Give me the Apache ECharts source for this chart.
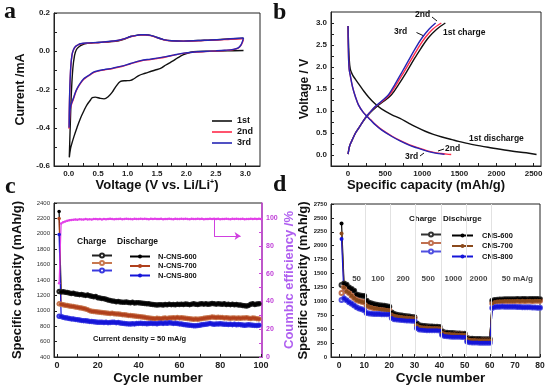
<!DOCTYPE html>
<html><head><meta charset="utf-8">
<script src="https://cdn.jsdelivr.net/npm/echarts@6/dist/echarts.min.js"></script>
<style>html,body{margin:0;padding:0;background:#fff}#chart{width:550px;height:389px}</style>
</head><body><div id="chart"></div>
<script>
// ---------- Panel a : cyclic voltammetry ----------
const cv1V = [2.97,2.7,2.4,2.2,2.07,1.95,1.85,1.78,1.73,1.65,1.56,1.47,1.39,1.3,1.19,1.1,1.05,0.97,0.88,0.8,0.74,0.67,0.6,0.53,0.45,0.4,0.37,0.31,0.26,0.2,0.14,0.09,0.06,0.03,0.01,
  0.025,0.045,0.07,0.1,0.13,0.17,0.23,0.32,0.5,0.7,0.85,0.95,1.05,1.15,1.22,1.3,1.39,1.5,1.61,1.75,1.95,2.2,2.52,2.75,2.97];
const cv1I = [0.004,0.002,0,-0.001,-0.005,-0.018,-0.035,-0.049,-0.058,-0.072,-0.09,-0.098,-0.106,-0.115,-0.127,-0.145,-0.152,-0.154,-0.158,-0.185,-0.214,-0.238,-0.249,-0.246,-0.24,-0.242,-0.255,-0.28,-0.31,-0.35,-0.40,-0.445,-0.475,-0.51,-0.555,
  -0.4,-0.22,-0.09,-0.02,0.008,0.022,0.034,0.041,0.046,0.05,0.055,0.064,0.077,0.083,0.086,0.086,0.083,0.072,0.061,0.055,0.053,0.056,0.06,0.065,0.068];
const cv3V = [2.97,2.95,2.92,2.88,2.8,2.65,2.5,2.3,2.1,1.95,1.78,1.65,1.5,1.39,1.22,1.05,0.9,0.75,0.6,0.5,0.43,0.35,0.3,0.255,0.2,0.15,0.114,0.08,0.05,0.029,0.015,0.006,
  0.01,0.02,0.035,0.055,0.08,0.114,0.16,0.2,0.3,0.54,0.82,0.95,1.05,1.15,1.22,1.3,1.39,1.5,1.61,1.75,1.95,2.2,2.52,2.75,2.97];
const cv3I = [0.07,0.05,0.03,0.018,0.01,0.005,0.002,-0.001,-0.005,-0.01,-0.02,-0.028,-0.036,-0.041,-0.049,-0.064,-0.078,-0.088,-0.096,-0.102,-0.108,-0.124,-0.134,-0.144,-0.165,-0.19,-0.214,-0.245,-0.27,-0.293,-0.34,-0.40,
  -0.3,-0.18,-0.08,-0.02,0.008,0.025,0.034,0.039,0.043,0.047,0.056,0.066,0.077,0.083,0.086,0.086,0.083,0.072,0.061,0.055,0.053,0.056,0.06,0.065,0.07];
const cv2V = [2.97,2.95,2.92,2.88,2.8,2.65,2.5,2.3,2.1,1.95,1.78,1.65,1.5,1.39,1.22,1.05,0.9,0.75,0.6,0.5,0.43,0.35,0.3,0.255,0.2,0.15,0.114,0.08,0.05,0.029,0.015,0.006,
  0.01,0.02,0.035,0.055,0.08,0.114,0.16,0.2,0.3,0.54,0.82,0.95,1.05,1.15,1.22,1.3,1.39,1.5,1.61,1.75,1.95,2.2,2.52,2.75,2.97];
const cv2I = [0.062,0.045,0.028,0.016,0.009,0.004,0.001,-0.002,-0.006,-0.011,-0.021,-0.03,-0.038,-0.043,-0.051,-0.066,-0.08,-0.09,-0.098,-0.104,-0.11,-0.126,-0.136,-0.147,-0.168,-0.193,-0.218,-0.25,-0.275,-0.3,-0.35,-0.405,
  -0.31,-0.19,-0.085,-0.022,0.006,0.024,0.033,0.038,0.042,0.046,0.055,0.065,0.076,0.082,0.085,0.085,0.082,0.071,0.06,0.054,0.052,0.055,0.059,0.063,0.066];
const aTicksX = [0,0.25,0.5,0.75,1,1.25,1.5,1.75,2,2.25,2.5,2.75,3];
const aLabelsX = [0,0.5,1,1.5,2,2.5,3];
const aTicksY = [-0.6,-0.5,-0.4,-0.3,-0.2,-0.1,0,0.1,0.2];
const aLabelsY = [-0.6,-0.4,-0.2,0,0.2];

// ---------- Panel b : charge / discharge profiles ----------
const b1DisCap = [0,5,15,30,60,100,150,200,275,360,450,585,700,810,900,1040,1150,1265,1400,1490,1700,1940,2200,2400,2540];
const b1DisV   = [2.93,2.6,2.2,1.95,1.82,1.72,1.6,1.48,1.32,1.17,1.05,0.92,0.83,0.73,0.65,0.54,0.47,0.41,0.35,0.31,0.23,0.16,0.09,0.05,0.01];
const b2DisCap = [0,3,8,15,27,60,100,140,200,255,305,370,458,600,712,830,948,1060,1155,1250,1330,1390];
const b2DisV   = [2.93,2.5,2.15,1.95,1.83,1.55,1.32,1.14,0.98,0.88,0.8,0.69,0.57,0.42,0.32,0.23,0.16,0.1,0.06,0.035,0.02,0.012];
const b3DisCap = [0,3,8,15,27,60,100,140,200,253,300,365,450,590,700,815,930,1040,1130,1220,1300];
const b3DisV   = [2.93,2.5,2.15,1.95,1.83,1.55,1.32,1.14,0.98,0.88,0.8,0.69,0.57,0.42,0.32,0.23,0.16,0.1,0.06,0.03,0.015];
const b1ChgCap = [0,20,50,100,150,235,310,385,480,585,680,785,880,980,1085,1195,1311];
const b1ChgV   = [0.02,0.2,0.32,0.5,0.63,0.84,0.98,1.1,1.22,1.37,1.6,1.88,2.15,2.42,2.67,2.86,3.0];
const b2ChgCap = [0,20,50,100,150,230,300,370,460,560,650,750,845,940,1040,1140,1257];
const b2ChgV   = [0.02,0.2,0.32,0.5,0.63,0.84,0.98,1.1,1.22,1.37,1.6,1.88,2.15,2.42,2.67,2.86,3.0];
const b3ChgCap = [0,20,50,100,150,230,300,365,450,545,630,725,815,905,1000,1090,1180];
const b3ChgV   = [0.02,0.2,0.32,0.5,0.63,0.84,0.98,1.1,1.22,1.37,1.6,1.88,2.15,2.42,2.67,2.86,3.0];
const bTicksX = [0,250,500,750,1000,1250,1500,1750,2000,2250,2500];
const bLabelsX = [0,500,1000,1500,2000,2500];
const bTicksY = [0,0.25,0.5,0.75,1,1.25,1.5,1.75,2,2.25,2.5,2.75,3];
const bLabelsY = [0,0.5,1,1.5,2,2.5,3];

// ---------- Panel c : cycling at 50 mA/g ----------
const cNames = ['N-CNS-600','N-CNS-700','N-CNS-800'];
const c600 = [2290,
 1245,1248,1240,1238,1230,1225,1228,1218,1215,
 1210,1212,1205,1200,1204,1195,1188,1182,1185,1170,
 1165,1160,1158,1150,1140,1135,1128,1125,1118,1120,
 1115,1112,1110,1115,1108,1105,1110,1102,1106,1104,
 1100,1098,1095,1092,1090,1085,1082,1078,1075,1078,
 1080,1076,1082,1078,1085,1080,1082,1078,1084,1082,
 1086,1082,1088,1084,1080,1086,1090,1085,1082,1088,
 1092,1086,1090,1084,1088,1094,1090,1086,1092,1088,
 1085,1090,1082,1086,1080,1084,1078,1082,1076,1074,
 1068,1065,1062,1070,1085,1090,1082,1088,1092];
const c700 = [2200,
 1085,1078,1072,1068,1062,1058,1055,1048,1045,
 1040,1035,1030,1022,1015,1002,995,990,988,985,
 982,978,975,972,968,965,968,962,960,958,
 955,950,948,944,940,938,935,932,928,925,
 922,918,915,910,905,903,900,898,902,900,
 898,902,905,900,908,905,910,906,912,908,
 910,906,904,900,896,892,890,894,890,895,
 898,902,906,910,914,918,915,912,916,914,
 912,908,910,906,904,908,905,902,906,904,
 908,906,910,904,900,906,902,898,895];
const c800 = [1990,
 925,915,910,905,900,895,892,888,885,
 880,875,872,870,868,862,860,858,855,852,
 850,852,848,850,846,848,852,850,846,848,
 842,838,835,832,830,828,832,830,834,836,
 838,834,836,832,835,838,834,836,832,838,
 840,836,842,838,844,840,836,838,834,830,
 828,822,818,815,812,810,806,805,808,812,
 818,822,826,830,834,830,826,830,828,832,
 828,824,826,822,826,820,824,818,822,820,
 816,812,814,818,815,812,810,808,812];
const cFirstCharge = [1250,1090,930];
const cCE = [53,96,97,97.5,98,98.3,98.6,98.8,99,98.8,
 99.1,99,98.9,99.2,99,99.1,98.9,99.2,99.3,99.1,
 99.2,99,99.3,99.1,99.2,99.4,99.2,99.1,99.3,99.2,
 99.4,99.1,99.3,99.5,99.2,99.3,99.1,99.4,99.2,99.3,
 99.5,99.2,99.4,99.3,99.1,99.4,99.2,99.5,99.3,99.2,
 99.4,99.1,99.3,99.2,99.5,99.3,99.1,99.4,99.2,99.3,
 99.4,99.2,99.5,99.3,99.1,99.4,99.2,99.3,99.5,99.2,
 99.4,99.1,99.3,99.2,99.4,99.3,99.5,99.2,99.4,99.1,
 99.3,99.2,99.4,99.3,99.1,99.4,99.2,99.5,99.3,99.2,
 99.4,99.1,99.3,99.2,99.4,99.3,99.5,99.2,99.4,99.3];
const cTicksX = [0,10,20,30,40,50,60,70,80,90,100];
const cLabelsX = [0,20,40,60,80,100];
const cTicksY = [400,600,800,1000,1200,1400,1600,1800,2000,2200,2400];
const cTicksR = [0,10,20,30,40,50,60,70,80,90,100];
const cLabelsR = [0,20,40,60,80,100];

// ---------- Panel d : rate capability ----------
const dNames = ['CNS-600','CNS-700','CNS-800'];
const d600 = [2400,1320,1300,1250,1220,1190,1125,1110,1100,1095,
 1010,975,960,950,940,932,925,920,912,905,
 800,772,760,752,745,738,732,726,720,716,
 600,572,562,556,552,550,546,545,542,540,
 462,442,436,432,430,426,424,421,419,416,
 340,330,326,324,323,322,321,320,320,318,
 1010,1025,1030,1032,1035,1036,1038,1040,1038,1040,
 1042,1040,1041,1043,1040,1042,1044,1041,1043,1040];
const d700 = [2220,1250,1180,1150,1100,1062,1025,1005,992,982,
 922,902,888,878,870,862,856,850,846,842,
 762,742,732,725,718,712,708,704,700,698,
 572,545,535,530,528,525,523,522,520,518,
 440,422,415,412,410,408,406,404,403,401,
 322,310,306,304,303,302,301,300,300,299,
 960,990,998,1002,1004,1005,1006,1008,1006,1008,
 1009,1008,1010,1008,1009,1010,1008,1010,1009,1010];
const d800 = [2120,1050,1020,985,955,925,895,872,860,842,
 792,780,776,774,772,771,770,770,769,768,
 700,680,672,668,664,660,657,655,652,650,
 520,495,488,485,483,482,481,480,479,478,
 400,378,372,368,366,364,363,362,361,360,
 280,266,262,260,259,258,257,256,256,255,
 880,898,902,905,906,904,905,903,904,902,
 900,898,895,896,894,892,890,888,886,884];
const dFirstCharge = [1295,1150,1025];
const dRateLabels = ['50','100','200','500','1000','2000','50 mA/g'];
const dRateX = [7,15.5,25.5,35.5,45.5,55.5,71];
const dRateY = 1400;
const dSeparators = [10.5,20.5,30.5,40.5,50.5,60.5];
const dTicksX = [0,5,10,15,20,25,30,35,40,45,50,55,60,65,70,75,80];
const dLabelsX = [0,10,20,30,40,50,60,70,80];
const dTicksY = [0,250,500,750,1000,1250,1500,1750,2000,2250,2500,2750];

// ---------- build ----------
const FONT = '"Liberation Sans", Arial, sans-serif';
const zip = (xs, ys) => xs.map((x, i) => [x, ys[i]]);
const byCycle = arr => arr.map((v, i) => [i + 1, v]);
const withFirst = (first, arr) => [first].concat(arr.slice(1));
const plain = v => String(v);
const f1 = v => v.toFixed(1);

function axis(o) {
  return {
    type: 'value', gridIndex: o.grid, min: o.min, max: o.max, position: o.position,
    axisLine: { show: true, onZero: false, lineStyle: { color: o.lineColor || '#222', width: o.lineWidth || 1 } },
    axisTick: { show: true, inside: true, length: 3, customValues: o.ticks, lineStyle: { color: o.lineColor || '#222' } },
    axisLabel: { customValues: o.labels, fontFamily: FONT, fontSize: o.fs, fontWeight: o.fw || 'bold',
      color: o.labelColor || '#222', margin: o.margin || 4, formatter: o.fmt || plain },
    splitLine: { show: false },
    name: o.name, nameLocation: 'middle', nameGap: o.gap, nameRotate: o.rot,
    nameTextStyle: Object.assign({ fontFamily: FONT, fontSize: o.nfs || 13, fontWeight: 'bold', color: o.nameColor || '#111' }, o.nts || {})
  };
}

const grids = [
  { left: 54, top: 13, width: 206, height: 153 },
  { left: 331, top: 12, width: 210, height: 154 },
  { left: 54, top: 203, width: 208, height: 154 },
  { left: 331, top: 204, width: 209, height: 153 }
].map(g => Object.assign({ show: true, borderColor: '#222', borderWidth: 1, backgroundColor: 'transparent' }, g));

const xAxes = [
  axis({ grid: 0, min: -0.25, max: 3.25, ticks: aTicksX, labels: aLabelsX, fs: 8, fmt: f1,
    name: 'Voltage (V vs. Li/Li{s|+})', gap: 12, nfs: 13,
    nts: { rich: { s: { fontSize: 7, fontWeight: 'bold', fontFamily: FONT, verticalAlign: 'top', color: '#111' } } } }),
  axis({ grid: 1, min: -230, max: 2600, ticks: bTicksX, labels: bLabelsX, fs: 8,
    name: 'Specific capacity (mAh/g)', gap: 12, nfs: 13, nts: { padding: [0, 20, 0, 0] } }),
  axis({ grid: 2, min: -1.5, max: 100.5, ticks: cTicksX, labels: cLabelsX, fs: 9,
    name: 'Cycle number', gap: 12, nfs: 13.5 }),
  axis({ grid: 3, min: -3.2, max: 80, ticks: dTicksX, labels: dLabelsX, fs: 8.5,
    name: 'Cycle number', gap: 12, nfs: 13.5, nts: { padding: [0, 0, 0, 10] } })
];
const yAxes = [
  axis({ grid: 0, min: -0.6, max: 0.2, ticks: aTicksY, labels: aLabelsY, fs: 8, fmt: f1,
    name: 'Current /mA', gap: 27, rot: 90, nfs: 12.5 }),
  axis({ grid: 1, min: -0.25, max: 3.25, ticks: bTicksY, labels: bLabelsY, fs: 8, fmt: f1,
    name: 'Voltage / V', gap: 20, rot: 90, nfs: 12 }),
  axis({ grid: 2, min: 400, max: 2400, ticks: cTicksY, labels: cTicksY, fs: 6, fw: 'normal', labelColor: '#333',
    name: 'Specific capacity (mAh/g)', gap: 30, rot: 90, nfs: 13 }),
  axis({ grid: 2, min: 0, max: 110.8, position: 'right', ticks: cTicksR, labels: cLabelsR, fs: 7,
    lineColor: '#cc44dd', lineWidth: 1.5, labelColor: '#c040d8',
    name: 'Coumbic efficiency /%', gap: 21, rot: 90, nfs: 13, nameColor: '#b060f0' }),
  axis({ grid: 3, min: 0, max: 2750, ticks: dTicksY, labels: dTicksY, fs: 6,
    name: 'Specific capacity (mAh/g)', gap: 16, rot: 90, nfs: 13 })
];

const aColors = ['#111111', '#ff2a4a', '#2626b4'];
const series = [];
[[cv1V, cv1I, '1st'], [cv2V, cv2I, '2nd'], [cv3V, cv3I, '3rd']].forEach((s, i) => {
  series.push({ type: 'line', name: s[2], xAxisIndex: 0, yAxisIndex: 0, data: zip(s[0], s[1]),
    symbol: 'none', smooth: 0.35, lineStyle: { color: aColors[i], width: 1.4 }, itemStyle: { color: aColors[i] } });
});
const bSets = [
  ['b1d', b1DisCap, b1DisV, aColors[0]], ['b1c', b1ChgCap, b1ChgV, aColors[0]],
  ['b2d', b2DisCap, b2DisV, aColors[1]], ['b2c', b2ChgCap, b2ChgV, aColors[1]],
  ['b3d', b3DisCap, b3DisV, aColors[2]], ['b3c', b3ChgCap, b3ChgV, aColors[2]]
];
bSets.forEach(s => series.push({ type: 'line', name: s[0], xAxisIndex: 1, yAxisIndex: 1, data: zip(s[1], s[2]),
  symbol: 'none', smooth: 0.35, lineStyle: { color: s[3], width: 1.4 } }));

const cColors = ['#000000', '#b0401c', '#1515d8'];
const cChargeColors = ['#222222', '#c87850', '#3a3ae0'];
const cData = [c600, c700, c800];
cData.forEach((arr, i) => {
  series.push({ type: 'line', name: cNames[i] + ' charge', xAxisIndex: 2, yAxisIndex: 2,
    data: byCycle(withFirst(cFirstCharge[i], arr)), symbol: 'emptyCircle', symbolSize: 3.5,
    lineStyle: { color: cChargeColors[i], width: 1.2 }, itemStyle: { color: cChargeColors[i], borderWidth: 1 } });
});
cData.forEach((arr, i) => {
  series.push({ type: 'line', name: cNames[i], xAxisIndex: 2, yAxisIndex: 2,
    data: byCycle(arr), symbol: 'circle', symbolSize: 3.5,
    lineStyle: { color: cColors[i], width: 1.2 }, itemStyle: { color: cColors[i] } });
});
series.push({ type: 'line', name: 'CE', xAxisIndex: 2, yAxisIndex: 3, data: byCycle(cCE),
  symbol: 'circle', symbolSize: 2.5, lineStyle: { color: '#e23ee8', width: 1.2 }, itemStyle: { color: '#e23ee8' },
  markLine: { silent: true, symbol: ['none', 'arrow'], symbolSize: 6,
    lineStyle: { color: '#d040e0', width: 1, type: 'solid' }, label: { show: false },
    data: [
      [{ coord: [77, 99.3], symbol: 'none' }, { coord: [77, 87], symbol: 'none' }],
      [{ coord: [77, 87] }, { coord: [90, 87] }]
    ] } });

const dData = [d600, d700, d800];
const dColors = ['#000000', '#8b4a1c', '#1515d8'];
const dChargeColors = ['#333333', '#c07050', '#5050e0'];
dData.forEach((arr, i) => {
  const s = { type: 'line', name: dNames[i] + ' charge', xAxisIndex: 3, yAxisIndex: 4,
    data: byCycle(withFirst(dFirstCharge[i], arr)), symbol: 'emptyCircle', symbolSize: 4,
    lineStyle: { color: dChargeColors[i], width: 1.2 }, itemStyle: { color: dChargeColors[i], borderWidth: 1 } };
  if (i === 0) s.markLine = { silent: true, symbol: 'none', label: { show: false },
    lineStyle: { color: '#e2e2e2', width: 1, type: 'solid' }, data: dSeparators.map(x => ({ xAxis: x })) };
  series.push(s);
});
dData.forEach((arr, i) => {
  series.push({ type: 'line', name: dNames[i], xAxisIndex: 3, yAxisIndex: 4,
    data: byCycle(arr), symbol: 'circle', symbolSize: 4,
    lineStyle: { color: dColors[i], width: 1.2 }, itemStyle: { color: dColors[i] } });
});
series.push({ type: 'scatter', name: 'rates', xAxisIndex: 3, yAxisIndex: 4, symbolSize: 0, silent: true,
  data: dRateX.map((x, i) => ({ value: [x, dRateY], name: dRateLabels[i] })),
  label: { show: true, position: 'inside', formatter: p => p.name, fontFamily: FONT, fontSize: 8, fontWeight: 'bold', color: '#111' } });

const legTxt = { fontFamily: FONT, fontWeight: 'bold', color: '#111' };
const legends = [
  { data: ['1st', '2nd', '3rd'], left: 207, top: 111.5, orient: 'vertical', icon: 'rect', itemWidth: 20, itemHeight: 1.6, itemGap: 2,
    selectedMode: false, textStyle: Object.assign({ fontSize: 9 }, legTxt) },
  { data: cNames.map(n => n + ' charge'), left: 86, top: 247.5, orient: 'vertical', itemWidth: 20, itemHeight: 5, itemGap: 1.5,
    selectedMode: false, formatter: () => '', textStyle: Object.assign({ fontSize: 7.5 }, legTxt) },
  { data: cNames, left: 124, top: 247.5, orient: 'vertical', itemWidth: 20, itemHeight: 5, itemGap: 1.5,
    selectedMode: false, textStyle: Object.assign({ fontSize: 7.5, padding: [0, 0, 0, 3] }, legTxt) },
  { data: dNames.map(n => n + ' charge'), left: 415, top: 226.5, orient: 'vertical', itemWidth: 20, itemHeight: 5, itemGap: 2.5,
    selectedMode: false, formatter: () => '', textStyle: Object.assign({ fontSize: 7.5 }, legTxt) },
  { data: dNames, left: 446, top: 226.5, orient: 'vertical', itemWidth: 21, itemHeight: 5, itemGap: 2.5,
    selectedMode: false, textStyle: Object.assign({ fontSize: 7.5, padding: [0, 0, 0, 4] }, legTxt) }
];

const T = (x, y, text, size, extra) => ({ type: 'text', left: x, top: y, silent: true,
  style: Object.assign({ text: text, font: 'bold ' + size + 'px ' + FONT, fill: '#111' }, extra || {}) });
const L = (x1, y1, x2, y2) => ({ type: 'line', silent: true, shape: { x1, y1, x2, y2 }, style: { stroke: '#111', lineWidth: 1 } });
const serif = 'bold 24px "Liberation Serif", "Times New Roman", serif';
const graphics = [
  { type: 'text', left: 4, top: 0, style: { text: 'a', font: serif, fill: '#111' } },
  { type: 'text', left: 273, top: 1, style: { text: 'b', font: serif, fill: '#111' } },
  { type: 'text', left: 5, top: 175, style: { text: 'c', font: serif, fill: '#111' } },
  { type: 'text', left: 273, top: 173, style: { text: 'd', font: serif, fill: '#111' } },
  T(415, 10, '2nd', 8.5), T(394, 27, '3rd', 8.5), T(443, 28, '1st charge', 8.5),
  T(469, 134, '1st discharge', 8.5), T(445, 144, '2nd', 8.5), T(405, 152, '3rd', 8.5),
  L(432, 17, 437, 21), L(416.5, 32.5, 424, 36), L(438, 151, 444, 149), L(420, 156, 424, 153),
  T(77, 237, 'Charge', 8.5), T(117, 237, 'Discharge', 8.5),
  T(93, 335, 'Current density = 50 mA/g', 7.5),
  T(409, 215, 'Charge', 8), T(443, 215, 'Discharge', 8)
];

const chart = echarts.init(document.getElementById('chart'), null, { renderer: 'canvas' });
chart.setOption({
  animation: false, backgroundColor: '#fff',
  grid: grids, xAxis: xAxes, yAxis: yAxes, legend: legends, series: series, graphic: graphics
});
</script></body></html>
